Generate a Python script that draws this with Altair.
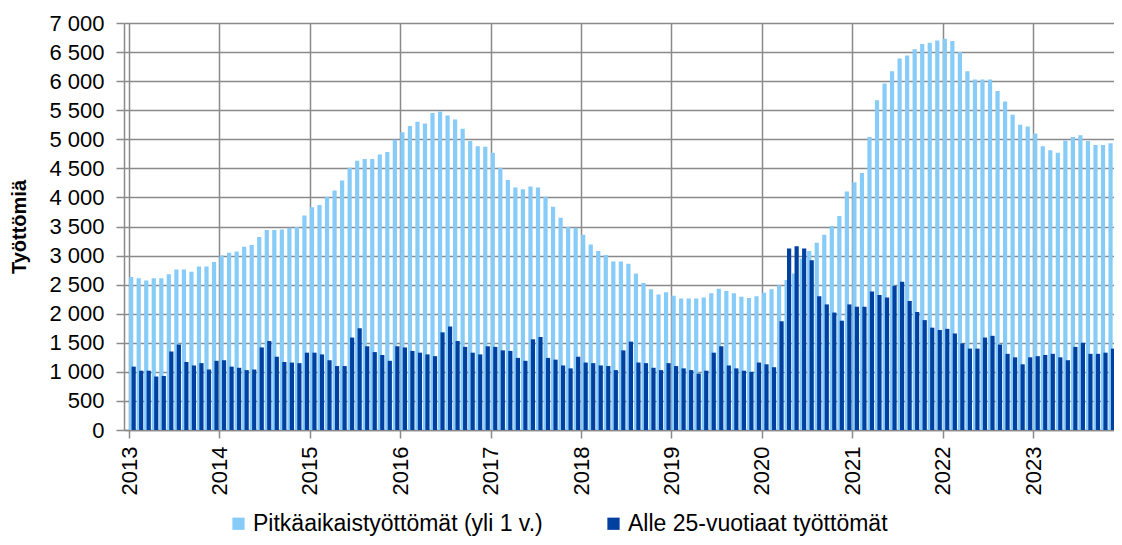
import altair as alt
import pandas as pd

FONT = "Liberation Sans"
LIGHT_LABEL = "Pitkäaikaistyöttömät (yli 1 v.)"
DARK_LABEL = "Alle 25-vuotiaat työttömät"
LIGHT_COLOR = "#87CCF8"
DARK_COLOR = "#0040A0"
GRID = "#8a8a8a"

start_year = 2013
year_ticks = list(range(2013, 2024))

# Long-term unemployed (over 1 year), monthly Jan 2013 - Nov 2023
light = [
    2630, 2610, 2570, 2610, 2610, 2680, 2760, 2760, 2720, 2810, 2810, 2890,
    3000, 3050, 3070, 3150, 3180, 3320, 3440, 3440, 3450, 3480, 3490, 3690,
    3830, 3870, 4010, 4120, 4290, 4510, 4630, 4660, 4660, 4740, 4780, 4990,
    5120, 5230, 5300, 5270, 5450, 5480, 5410, 5340, 5180, 4970, 4880, 4870,
    4770, 4510, 4300, 4170, 4140, 4190, 4170, 4010, 3840, 3650, 3490, 3480,
    3360, 3190, 3080, 3010, 2900, 2900, 2860, 2690, 2530, 2420, 2330, 2370,
    2310, 2260, 2260, 2260, 2280, 2350, 2430, 2390, 2350, 2290, 2270, 2300,
    2360, 2420, 2490, 2580, 2690, 2950, 3080, 3220, 3360, 3510, 3680, 4100,
    4260, 4420, 5040, 5670, 5960, 6170, 6390, 6440, 6550, 6640, 6660, 6700,
    6730, 6690, 6500, 6170, 6030, 6030, 6030, 5830, 5650, 5420, 5250, 5220,
    5100, 4880, 4810, 4770, 4980, 5040, 5070, 4970, 4900, 4900, 4930,
]

# Unemployed under 25 years, monthly Jan 2013 - Nov 2023
dark = [
    1090, 1020, 1020, 920, 930, 1350, 1470, 1170, 1110, 1150, 1040, 1190,
    1200, 1090, 1070, 1030, 1040, 1420, 1530, 1260, 1170, 1160, 1150, 1330,
    1330, 1300, 1200, 1100, 1100, 1590, 1750, 1440, 1340, 1290, 1190, 1440,
    1420, 1360, 1330, 1300, 1270, 1680, 1780, 1530, 1430, 1330, 1300, 1440,
    1430, 1370, 1360, 1240, 1190, 1560, 1600, 1240, 1210, 1110, 1060, 1260,
    1160, 1150, 1110, 1100, 1030, 1370, 1520, 1160, 1150, 1070, 1030, 1150,
    1100, 1060, 1030, 970, 1020, 1330, 1440, 1110, 1060, 1020, 1000, 1160,
    1130, 1080, 1870, 3120, 3160, 3120, 2920, 2300, 2160, 2020, 1880, 2160,
    2120, 2120, 2380, 2320, 2280, 2480, 2550, 2220, 2030, 1890, 1760, 1720,
    1740, 1660, 1490, 1400, 1400, 1590, 1620, 1470, 1310, 1250, 1130, 1250,
    1270, 1290, 1310, 1250, 1200, 1430, 1500, 1310, 1310, 1330, 1400,
]

rows = []
for series, values in ((LIGHT_LABEL, light), (DARK_LABEL, dark)):
    for i, v in enumerate(values):
        yr = start_year + i // 12
        mo = i % 12 + 1
        rows.append({"t": yr + (mo - 0.5) / 12.0, "value": v, "series": series})
df = pd.DataFrame(rows)

x_enc = alt.X(
    "t:Q",
    title=None,
    scale=alt.Scale(domain=[2013, 2023.84], nice=False, zero=False),
    axis=alt.Axis(
        values=year_ticks, format="d", labelAngle=-90, labelAlign="right",
        labelBaseline="middle", labelPadding=8, tickSize=8, grid=True,
        labelFontSize=22,
    ),
)
y_enc = alt.Y(
    "value:Q",
    scale=alt.Scale(domain=[0, 7000], nice=False),
    axis=alt.Axis(
        values=list(range(0, 7001, 500)),
        labelExpr="replace(format(datum.value, ','), ',', ' ')",
        title="Työttömiä", titleFontWeight="bold", titleFontSize=20,
        titleFont=FONT, titleColor="black", titlePadding=19,
        tickSize=8, labelPadding=12, labelFontSize=22, grid=True,
    ),
)
color_enc = alt.Color(
    "series:N",
    scale=alt.Scale(domain=[LIGHT_LABEL, DARK_LABEL], range=[LIGHT_COLOR, DARK_COLOR]),
    legend=alt.Legend(
        title=None, orient="none", legendX=103, legendY=489, padding=0,
        direction="horizontal", columns=2, symbolType="square",
        symbolSize=150, symbolStrokeWidth=0, symbolOpacity=1,
        labelFontSize=23, labelFont=FONT, labelColor="black",
        labelOffset=3, columnPadding=59, labelLimit=0,
    ),
)

base = alt.Chart(df).encode(x=x_enc, y=y_enc, color=color_enc)
light_bars = base.transform_filter(alt.datum.series == LIGHT_LABEL).mark_bar(
    width=4.2, xOffset=-1.6, clip=True
)
dark_bars = base.transform_filter(alt.datum.series == DARK_LABEL).mark_bar(
    width=4.2, xOffset=0.9, clip=True
)

chart = (
    alt.layer(light_bars, dark_bars)
    .properties(
        width=990, height=407,
        autosize=alt.AutoSizeParams(type="none"),
        padding={"left": 116, "top": 15, "right": 0, "bottom": 107},
        background="white",
    )
    .configure_view(stroke=None)
    .configure_axis(
        domainColor=GRID, gridColor=GRID, gridWidth=1.5, tickColor=GRID,
        tickWidth=1.5, domainWidth=1.5, labelFont=FONT, labelColor="black",
    )
)

chart.save("out.html", embed_options={"renderer": "svg", "actions": False})
